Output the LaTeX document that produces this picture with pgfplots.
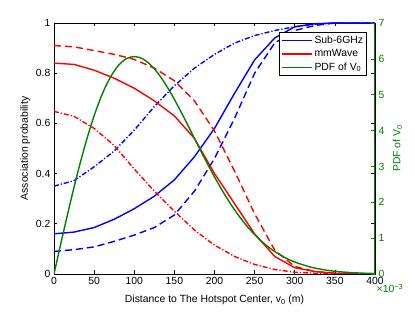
\documentclass[border=0pt]{standalone}
\usepackage{fontspec}
\setmainfont{Liberation Sans}
\usepackage{pgfplots}
\usepackage{pgfplotstable}
\pgfplotsset{compat=1.18}
\definecolor{mgreen}{rgb}{0,0.5,0}

\pgfplotstableread{
x    bs     bd     bdd    rs     rd     rdd
0    0.160  0.090  0.350  0.840  0.910  0.648
25   0.167  0.097  0.372  0.835  0.905  0.628
50   0.185  0.108  0.427  0.812  0.890  0.580
75   0.218  0.130  0.490  0.780  0.875  0.512
100  0.260  0.155  0.573  0.740  0.855  0.418
125  0.310  0.185  0.667  0.690  0.820  0.330
150  0.375  0.235  0.750  0.630  0.770  0.250
175  0.467  0.330  0.820  0.540  0.690  0.175
200  0.580  0.460  0.875  0.400  0.570  0.115
225  0.720  0.620  0.920  0.280  0.410  0.070
250  0.853  0.800  0.950  0.160  0.240  0.038
275  0.940  0.920  0.970  0.070  0.095  0.018
300  0.985  0.970  0.985  0.025  0.030  0.007
325  0.997  0.990  0.995  0.010  0.010  0.003
350  1.000  1.000  1.000  0.003  0.003  0.001
375  1.000  1.000  1.000  0.000  0.000  0.000
400  1.000  1.000  1.000  0.000  0.000  0.000
}\assoc

\pgfplotstableread{
x    p
0    0
10   0.995
20   1.960
30   2.868
40   3.692
50   4.412
60   5.012
70   5.479
80   5.809
90   6.003
100  6.065
110  6.007
120  5.841
130  5.585
140  5.254
150  4.870
160  4.448
170  4.007
180  3.562
190  3.125
200  2.707
210  2.316
220  1.956
230  1.633
240  1.347
250  1.098
260  0.885
270  0.705
280  0.556
290  0.433
300  0.333
320  0.191
340  0.105
360  0.055
380  0.028
400  0.013
}\pdf

\begin{document}
\fontsize{10.4}{12}\selectfont
\begin{tikzpicture}
\pgfplotsset{
  every axis/.append style={
    scale only axis, width=321pt, height=251pt,
    xmin=0, xmax=400,
    /pgf/number format/assume math mode=true,
    tick align=inside,
    major tick length=3.5pt,
    font=\fontsize{10.4}{12}\selectfont,
    axis line style={line width=0.7pt},
    every tick/.style={line width=0.7pt},
  },
}
\begin{axis}[
  ymin=0, ymax=1,
  xtick={0,50,...,400},
  ytick={0,0.2,0.4,0.6,0.8,1},
  yticklabels={0,0.2,0.4,0.6,0.8,1},
  xticklabels={0,50,100,150,200,250,300,350,400},
  xlabel={Distance to The Hotspot Center, v\textsubscript{0} (m)},
  ylabel={Association probability},
  xlabel style={at={(axis description cs:0.5,-0.104)},anchor=center},
  ylabel style={at={(axis description cs:-0.09,0.5)},anchor=center},
]
\addplot[blue, line width=1.4pt] table[x=x,y=bs] {\assoc};
\addplot[blue, line width=1.4pt, dash pattern=on 7pt off 4pt] table[x=x,y=bd] {\assoc};
\addplot[blue, line width=1.4pt, dash pattern=on 5pt off 2pt on 1.2pt off 2pt] table[x=x,y=bdd] {\assoc};
\addplot[red, line width=1.4pt] table[x=x,y=rs] {\assoc};
\addplot[red, line width=1.4pt, dash pattern=on 7pt off 4pt] table[x=x,y=rd] {\assoc};
\addplot[red, line width=1.4pt, dash pattern=on 5pt off 2pt on 1.2pt off 2pt] table[x=x,y=rdd] {\assoc};
\end{axis}
\begin{axis}[
  axis x line=none,
  axis y line*=right,
  ymin=0, ymax=7,
  ytick={0,1,...,7},
  y axis line style={mgreen, line width=1pt},
  ytick style={mgreen},
  yticklabel style={text=mgreen},
  ylabel={PDF of V\textsubscript{0}},
  ylabel style={text=mgreen, at={(axis description cs:1.070,0.5)}, anchor=center, rotate=0},
  legend style={at={(0.975,0.964)}, anchor=north east, draw=black, line width=0.8pt,
    fill=white, font=\fontsize{10.4}{12}\selectfont, inner sep=1.5pt,
    row sep=0.5pt},
  legend cell align=left,
  legend image code/.code={\draw[#1, line width=1.4pt] (0pt,0pt) -- (30pt,0pt);},
]
\addlegendimage{blue}
\addlegendentry{Sub-6GHz}
\addlegendimage{red}
\addlegendentry{mmWave}
\addplot[mgreen, line width=1.4pt, smooth] table[x=x,y=p] {\pdf};
\addlegendentry{PDF of V\textsubscript{0}}
\end{axis}
\node[anchor=base west, text=mgreen, inner sep=0pt] at ([xshift=1.5pt,yshift=-19pt]current axis.south east) {×10\textsuperscript{−3}};
\pgfresetboundingbox
\path (current axis.south west) ++(-54pt,-38pt) rectangle ++(415pt,312pt);
\end{tikzpicture}
\end{document}
